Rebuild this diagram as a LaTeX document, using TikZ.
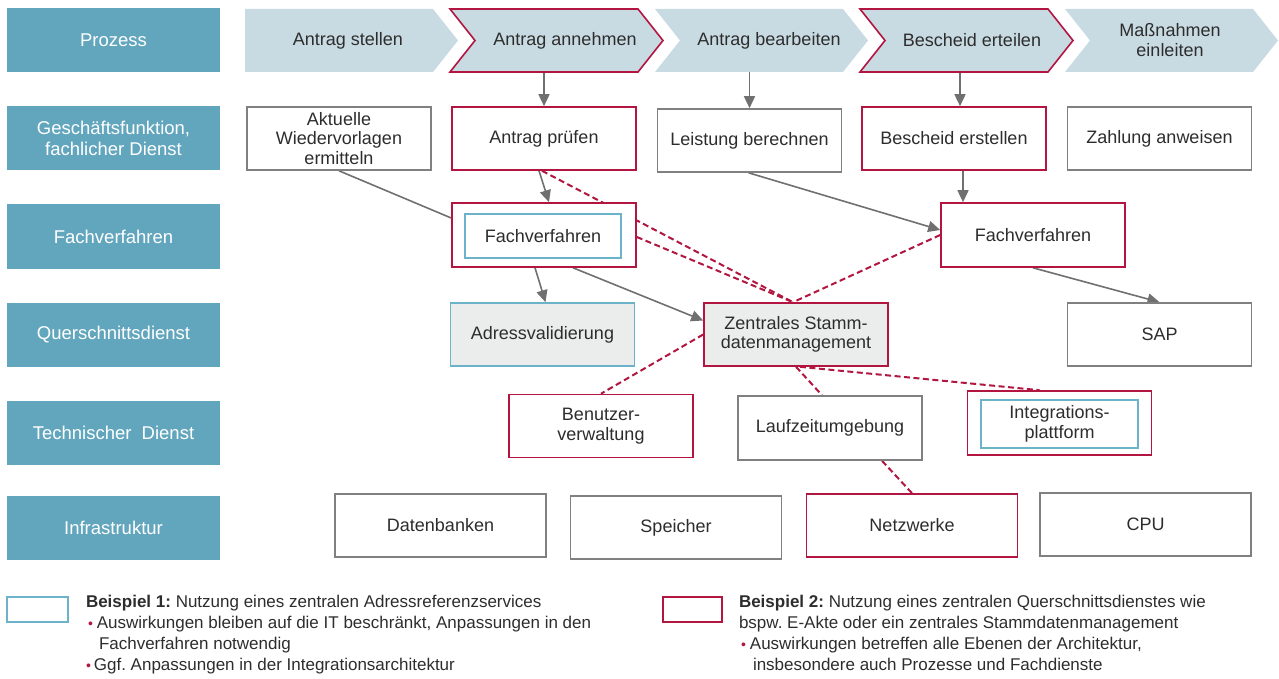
\documentclass[tikz,border=0pt]{standalone}
\usepackage{fontspec}
\setmainfont{Liberation Sans}
\usepackage{xcolor}
\usepackage{tikz}
\usetikzlibrary{positioning,arrows.meta,backgrounds}
\frenchspacing

\definecolor{rowteal}{RGB}{98,166,190}
\definecolor{chevfill}{RGB}{201,219,226}
\definecolor{crim}{RGB}{178,22,64}
\definecolor{boxgray}{RGB}{128,128,128}
\definecolor{linegray}{RGB}{112,112,112}
\definecolor{keyteal}{RGB}{108,178,201}
\definecolor{qfill}{RGB}{235,237,237}
\definecolor{txt}{RGB}{45,45,45}

\newcommand\legdot{{\color{crim}\fontsize{14}{21}\selectfont\textbullet}}

\begin{document}
\begin{tikzpicture}[x=1pt,y=-1pt,
    row/.style={fill=rowteal,text=white,minimum width=213pt,minimum height=64pt,align=center,inner sep=0pt,font=\fontsize{18.5}{20.5}\selectfont},
    chev/.style={fill=chevfill},
    chevtext/.style={text=txt,minimum height=63pt,inner sep=0pt,align=center,font=\fontsize{18}{20}\selectfont},
    box/.style={draw=boxgray,fill=white,line width=1.6pt,minimum width=184pt,minimum height=63pt,inner sep=0pt,align=center,text=txt,font=\fontsize{18}{19.5}\selectfont},
    redbox/.style={box,draw=crim},
    infra/.style={box,minimum width=211pt},
    inbox/.style={box,draw=keyteal,minimum width=156pt,minimum height=44pt},
    plain/.style={draw=linegray,line width=1.6pt},
    arr/.style={plain,-{Triangle[length=12pt,width=11pt]}},
    link/.style={draw=crim,line width=2pt,dash pattern=on 6pt off 3.5pt},
    legkey/.style={line width=1.6pt,minimum height=25pt,inner sep=0pt},
    legtext/.style={text=txt,align=left,inner sep=0pt,font=\fontsize{17}{21}\selectfont}
  ]
  \useasboundingbox (0,0) rectangle (1279,679);

  % Row labels
  \node[row] (rp) at (113.5,40) {Prozess};
  \node[row] (rg) at (113.5,138.5) {Geschäftsfunktion,\\fachlicher Dienst};
  \node[row] (rf) at (113.5,236.5) {Fachverfahren};
  \node[row] (rq) at (113.5,334.5) {Querschnittsdienst};
  \node[row] (rt) at (113.5,433) {Technischer\ \ Dienst};
  \node[row] (ri) at (113.5,528) {Infrastruktur};

  % Process chevrons
  \fill[chev] (245,9) -- (433,9) -- (458,40.5) -- (433,72) -- (245,72) -- cycle;
  \filldraw[chev,draw=crim,line width=1.6pt] (450,9) -- (638,9) -- (663,40.5) -- (638,72) -- (450,72) -- (475,40.5) -- cycle;
  \fill[chev] (655,9) -- (843,9) -- (868,40.5) -- (843,72) -- (655,72) -- (680,40.5) -- cycle;
  \filldraw[chev,draw=crim,line width=1.6pt] (860,9) -- (1048,9) -- (1073,40.5) -- (1048,72) -- (860,72) -- (885,40.5) -- cycle;
  \fill[chev] (1065,9) -- (1253,9) -- (1278,40.5) -- (1253,72) -- (1065,72) -- (1090,40.5) -- cycle;
  \node[chevtext] (p1) at (348,40.5) {Antrag stellen};
  \node[chevtext] (p2) at (565,40.5) {Antrag annehmen};
  \node[chevtext] (p3) at (769,40.5) {Antrag bearbeiten};
  \node[chevtext] (p4) at (972,40.5) {Bescheid erteilen};
  \node[chevtext] (p5) at (1170,40.5) {Maßnahmen\\einleiten};

  % Geschaeftsfunktionen
  \node[box] (wv) at (339,138.5) {Aktuelle\\Wiedervorlagen\\ermitteln};
  \node[redbox] (ap) at (544,138.5) {Antrag prüfen};
  \node[box] (lb) at (749.5,140.5) {Leistung berechnen};
  \node[redbox] (be) at (954,138.5) {Bescheid erstellen};
  \node[box] (za) at (1159.5,138.5) {Zahlung anweisen};

  % Fachverfahren
  \node[redbox,minimum height=64pt] (fv1) at (544,235) {};
  \node[inbox] (fv1i) at (543,236) {Fachverfahren};
  \node[redbox,minimum height=64pt] (fv2) at (1033,235) {Fachverfahren};

  % Querschnittsdienste
  \node[box,draw=keyteal,fill=qfill] (av) at (542.5,334.5) {Adressvalidierung};
  \node[redbox,fill=qfill] (zs) at (796,334.5) {Zentrales Stamm-\\datenmanagement};
  \node[box] (sap) at (1159.5,334.5) {SAP};

  % Technische Dienste
  \node[redbox] (bv) at (601,426) {Benutzer-\\verwaltung};
  \node[box,minimum height=64pt] (lz) at (830,428) {Laufzeitumgebung};
  \node[redbox,minimum height=64pt] (ip) at (1059.5,423) {};
  \node[inbox,minimum width=157pt,minimum height=48pt] (ipi) at (1059.5,424) {Integrations-\\plattform};

  % Infrastruktur
  \node[infra] (db) at (440.5,525.5) {Datenbanken};
  \node[infra] (sp) at (676,527.5) {Speicher};
  \node[infra,draw=crim] (nw) at (912,525.5) {Netzwerke};
  \node[infra] (cpu) at (1145.5,524.5) {CPU};

  % Connectors
  \begin{pgfonlayer}{background}
    \draw[arr] (ap.north |- p2.south) -- (ap.north);
    \draw[arr] (lb.north |- p3.south) -- (lb.north);
    \draw[arr] ([xshift=6pt]be.north |- p4.south) -- ([xshift=6pt]be.north);
    \draw[arr] ([xshift=9pt]be.south) -- ([xshift=9pt]be.south |- fv2.north);
    \draw[arr] ([xshift=-5pt]ap.south) -- ([xshift=5pt]fv1.north);
    \draw[arr] ([xshift=-9pt]fv1.south) -- ([xshift=3pt]av.north);
    \draw[arr] ([xshift=29pt]fv1.south) -- ([yshift=14pt]zs.west);
    \draw[arr] ([xshift=-1pt]lb.south) -- ([yshift=5pt]fv2.west);
    \draw[arr] (fv2.south) -- (sap.north);
    \draw[plain] (wv.south) -- ([yshift=17pt]fv1.west);
    % Beispiel 2 links
    \draw[link] ([xshift=-2pt]ap.south) -- ([xshift=-3pt]zs.north);
    \draw[link] ([yshift=-2pt]fv1.east) -- ([xshift=-3pt]zs.north);
    \draw[link] (fv2.west) -- ([xshift=-3pt]zs.north);
    \draw[link] (zs.west) -- (bv.north);
    \draw[link] (zs.south) -- ([xshift=-8pt]lz.north);
    \draw[link] ([xshift=4pt]zs.south) -- ([xshift=-20pt]ip.north);
    \draw[link] ([xshift=52pt]lz.south) -- (nw.north);
  \end{pgfonlayer}

  % Legend
  \node[legkey,draw=keyteal,minimum width=61pt] (key1) at (37.5,609.5) {};
  \node[legtext,below right=-1pt and 17pt of key1.north east] (leg1) {%
    \textbf{Beispiel 1:} Nutzung eines zentralen Adressreferenzservices\\
    \hspace*{2pt}\legdot\hspace{4pt}Auswirkungen bleiben auf die IT beschränkt, Anpassungen in den\\
    \hspace*{13pt}Fachverfahren notwendig\\
    \hspace*{0pt}\legdot\hspace{3pt}Ggf. Anpassungen in der Integrationsarchitektur};
  \node[legkey,draw=crim,minimum width=59pt] (key2) at (692.5,609.5) {};
  \node[legtext,below right=-1pt and 16pt of key2.north east] (leg2) {%
    \textbf{Beispiel 2:} Nutzung eines zentralen Querschnittsdienstes wie\\
    bspw. E-Akte oder ein zentrales Stammdatenmanagement\\
    \hspace*{2pt}\legdot\hspace{4pt}Auswirkungen betreffen alle Ebenen der Architektur,\\
    \hspace*{14pt}insbesondere auch Prozesse und Fachdienste};
\end{tikzpicture}
\end{document}
